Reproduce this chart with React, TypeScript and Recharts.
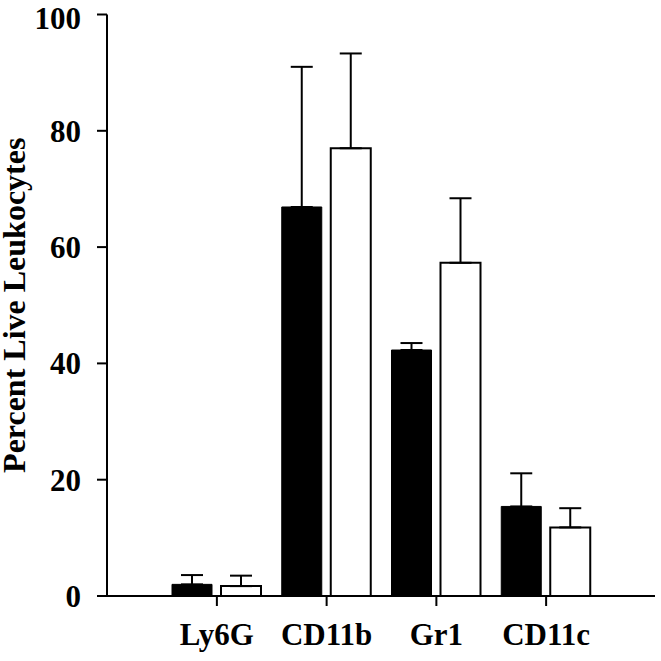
import React from "react";
import { BarChart, Bar, XAxis, YAxis, ErrorBar } from "recharts";

const categories = ["Ly6G", "CD11b", "Gr1", "CD11c"];
const blackValues = [2.0, 66.9, 42.3, 15.4];
const blackErrors = [1.6, 24.1, 1.2, 5.7];
const whiteValues = [1.7, 77.0, 57.3, 11.8];
const whiteErrors = [1.8, 16.3, 11.1, 3.3];
const yTicks = [0, 20, 40, 60, 80, 100];

const data = categories.map((cat, i) => ({
  cat,
  black: blackValues[i],
  blackErr: [0, blackErrors[i]],
  white: whiteValues[i],
  whiteErr: [0, whiteErrors[i]],
}));

const font = "Liberation Serif";
const tickStyle = { fontFamily: font, fontWeight: 700, fontSize: 31, fill: "#000" };

const App: React.FC = () => {
  return (
    <div style={{ position: "absolute", left: 0, top: 0, width: 661, height: 661, background: "#fff", fontFamily: font }}>
      <BarChart
        width={661}
        height={661}
        data={data}
        margin={{ top: 14.5, right: 6, bottom: 0, left: 0 }}
        barSize={40}
        barGap={9}
      >
        <XAxis
          xAxisId="b"
          dataKey="cat"
          padding={{ left: 55, right: 54 }}
          height={65}
          tickSize={10}
          tickMargin={17}
          stroke="#000"
          strokeWidth={2}
          tick={tickStyle}
          interval={0}
        />
        <XAxis xAxisId="t" dataKey="cat" orientation="top" height={0} tick={false} tickLine={false} stroke="#000" strokeWidth={2} />
        <YAxis
          yAxisId="l"
          width={107}
          domain={[0, 100]}
          ticks={yTicks}
          tickSize={10}
          tickMargin={16}
          stroke="#000"
          strokeWidth={2}
          tick={tickStyle}
          label={{
            value: "Percent Live Leukocytes",
            angle: -90,
            position: "insideLeft",
            offset: 14,
            style: { ...tickStyle, fontSize: 32, textAnchor: "middle" },
          }}
        />
        <YAxis yAxisId="r" orientation="right" width={0} domain={[0, 100]} tick={false} tickLine={false} stroke="#000" strokeWidth={2} />
        <Bar xAxisId="b" yAxisId="l" dataKey="black" fill="#000" stroke="#000" strokeWidth={1} isAnimationActive={false}>
          <ErrorBar dataKey="blackErr" width={11} stroke="#000" strokeWidth={2} direction="y" />
        </Bar>
        <Bar xAxisId="b" yAxisId="l" dataKey="white" fill="#fff" stroke="#000" strokeWidth={2} isAnimationActive={false}>
          <ErrorBar dataKey="whiteErr" width={11} stroke="#000" strokeWidth={2} direction="y" />
        </Bar>
      </BarChart>
    </div>
  );
};

export default App;
